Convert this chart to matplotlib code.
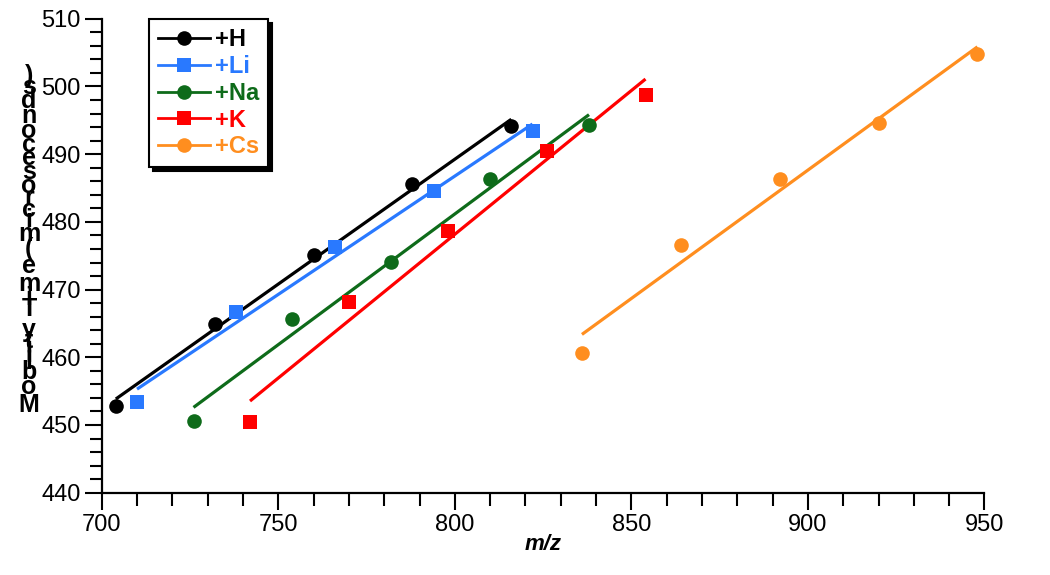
import numpy as np
import matplotlib
matplotlib.use("Agg")
import matplotlib.pyplot as plt

plt.rcParams["font.family"] = ["Liberation Sans", "DejaVu Sans"]

# m/z of the five oligomers for each adduct
mz_H = [704, 732, 760, 788, 816]
mz_Li = [710, 738, 766, 794, 822]
mz_Na = [726, 754, 782, 810, 838]
mz_K = [742, 770, 798, 826, 854]
mz_Cs = [836, 864, 892, 920, 948]

# mobility times
t_H = [452.8, 464.9, 475.1, 485.6, 494.1]
t_Li = [453.4, 466.7, 476.3, 484.6, 493.4]
t_Na = [450.6, 465.7, 474.1, 486.4, 494.3]
t_K = [450.5, 468.2, 478.6, 490.5, 498.8]
t_Cs = [460.7, 476.6, 486.4, 494.6, 504.8]

labels = ["+H", "+Li", "+Na", "+K", "+Cs"]
colors = ["#000000", "#2979FF", "#0E6B1A", "#FF0000", "#FF8E1F"]
markers = ["o", "s", "o", "s", "o"]

ylabel = "Mobility Time (microseconds)"

xs = [mz_H, mz_Li, mz_Na, mz_K, mz_Cs]
ys = [t_H, t_Li, t_Na, t_K, t_Cs]

W, H = 1050, 575
fig = plt.figure(figsize=(W / 100, H / 100), dpi=100)
ax = fig.add_axes([101.7 / W, 1 - 492.7 / H, (984.5 - 101.7) / W, (492.7 - 18.8) / H])

handles = []
for x, y, lab, c, m in zip(xs, ys, labels, colors, markers):
    x = np.array(x, dtype=float)
    y = np.array(y, dtype=float)
    k, b = np.polyfit(x, y, 1)
    xe = np.array([x.min(), x.max()])
    ax.plot(xe, k * xe + b, color=c, lw=2.3, solid_capstyle="butt", zorder=2)
    ms = 10.5 if m == "o" else 10
    ax.plot(x, y, ls="none", marker=m, color=c, ms=ms, mew=0, zorder=3)
    h, = ax.plot([], [], color=c, lw=2.0, marker=m, ms=ms, mew=0)
    handles.append(h)

ax.set_xlim(700, 950)
ax.set_ylim(440, 510)
ax.set_xticks(np.arange(700, 951, 50))
ax.set_xticks(np.arange(700, 951, 10), minor=True)
ax.set_yticks(np.arange(440, 511, 10))
ax.set_yticks(np.arange(440, 511, 2), minor=True)

for s in ["top", "right"]:
    ax.spines[s].set_visible(False)
for s in ["left", "bottom"]:
    ax.spines[s].set_linewidth(1.6)

ax.tick_params(which="major", direction="out", length=12.5, width=1.5, labelsize=17, pad=2.5)
ax.tick_params(which="minor", direction="out", length=9, width=1.5)

ax.set_xlabel("m/z", fontsize=16, fontweight="bold", style="italic", labelpad=-1)

leg = ax.legend(handles, labels, loc="upper left", bbox_to_anchor=(0.0539, 0.999),
                borderaxespad=0, prop={"weight": "bold", "size": 17},
                handlelength=2.2, handletextpad=0.2, labelspacing=0.16,
                borderpad=0.38, fancybox=False, framealpha=1,
                shadow={"color": "black", "alpha": 1, "ox": 3, "oy": -3})
leg.get_frame().set_edgecolor("black")
leg.get_frame().set_linewidth(1.5)
for t, c in zip(leg.get_texts(), colors):
    t.set_color(c)

# y label drawn as upright characters stacked bottom to top
adv = {"M": 833, "o": 611, "b": 611, "i": 278, "l": 278, "t": 333, "y": 556, " ": 278,
       "T": 611, "m": 889, "e": 556, "(": 333, "c": 556, "r": 389, "s": 556, "n": 611,
       "d": 611, ")": 333}
em = 24.3
pos = 415.0
for ch in ylabel:
    w = adv.get(ch, 556) / 1000 * em
    yc = pos - w / 2
    pos -= w
    if ch == " ":
        continue
    fig.text(29 / W, 1 - yc / H, ch, ha="center", va="center", fontsize=18, fontweight="bold")

fig.savefig("out.png", dpi=100)
